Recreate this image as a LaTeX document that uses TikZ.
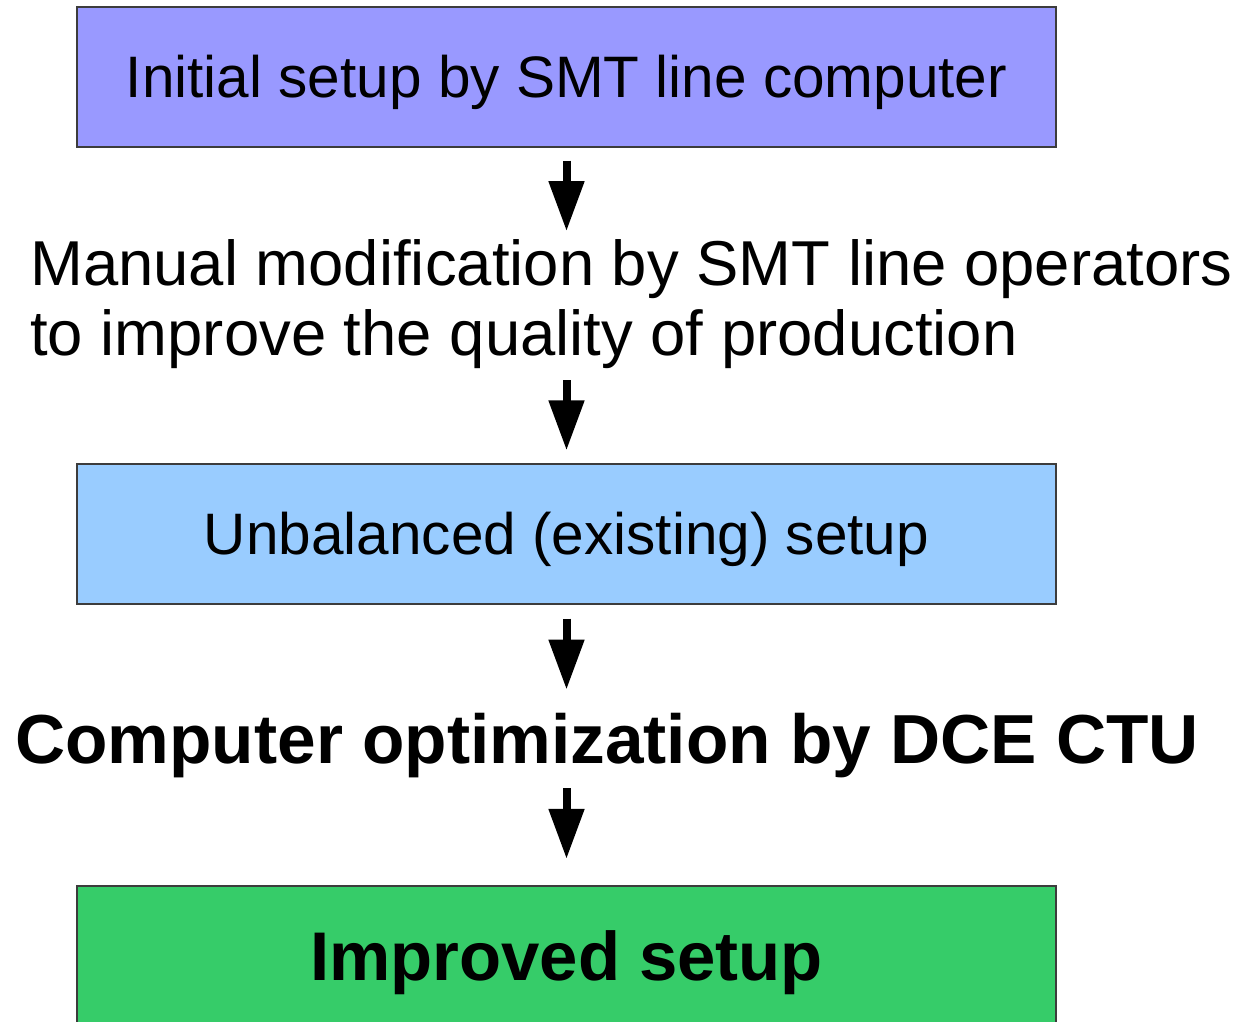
\documentclass[tikz,border=0pt]{standalone}
\usepackage{fontspec}
\setmainfont{Liberation Sans}
\usetikzlibrary{arrows.meta}
\definecolor{boxviolet}{HTML}{9999FF}
\definecolor{boxblue}{HTML}{99CCFF}
\definecolor{boxgreen}{HTML}{36CC69}
\definecolor{boxedge}{HTML}{3C3C3C}
\tikzset{
  stagebox/.style={draw=boxedge, line width=0.025cm, minimum width=19.58cm,
    minimum height=2.8cm, inner sep=0pt, text height=23.8pt, text depth=0pt,
    font=\fontsize{33.3pt}{40pt}\selectfont},
  plainline/.style={inner sep=0pt, text height=25.9pt, text depth=0pt,
    font=\fontsize{36.1pt}{42pt}\selectfont},
  boldline/.style={inner sep=0pt, text height=28.2pt, text depth=0pt,
    font=\fontsize{39.5pt}{46pt}\selectfont\bfseries},
  flowarrow/.style={line width=0.16cm, -{Triangle[length=1cm, width=0.68cm]}},
}
\begin{document}
\begin{tikzpicture}[x=0.02cm, y=-0.02cm]
  \useasboundingbox (0,0) rectangle (1246,1021);
  \begin{scope}
    \clip (0,0) rectangle (1246,1021);
    % process stages
    \node[stagebox, fill=boxviolet] (initial) at (566.5,77) {Initial setup by SMT line computer};
    \node[stagebox, fill=boxblue] (unbal) at (566.5,534) {Unbalanced (existing) setup};
    \node[stagebox, fill=boxgreen, text height=28pt, font=\fontsize{39.2pt}{46pt}\selectfont\bfseries] (improved) at (566.5,956) {Improved setup};
  \end{scope}
  % transitions between the stages
  \node[plainline, anchor=base west] (manualA) at (30,285) {Manual modification by SMT line operators};
  \node[plainline, anchor=base west] (manualB) at (30,355) {to improve the quality of production};
  \node[boldline, anchor=base west] (optim) at (15,763) {Computer optimization by DCE CTU};
  % arrows
  \draw[flowarrow, shorten <=0.26cm, shorten >=0.16cm] (initial.south) -- (initial.south |- manualA.north);
  \draw[flowarrow, shorten <=0.5cm, shorten >=0.26cm] (unbal.north |- manualB.south) -- (unbal.north);
  \draw[flowarrow, shorten <=0.28cm, shorten >=0.47cm] (unbal.south) -- (unbal.south |- optim.north);
  \draw[flowarrow, shorten <=0.5cm, shorten >=0.53cm] (improved.north |- optim.south) -- (improved.north);
\end{tikzpicture}
\end{document}
